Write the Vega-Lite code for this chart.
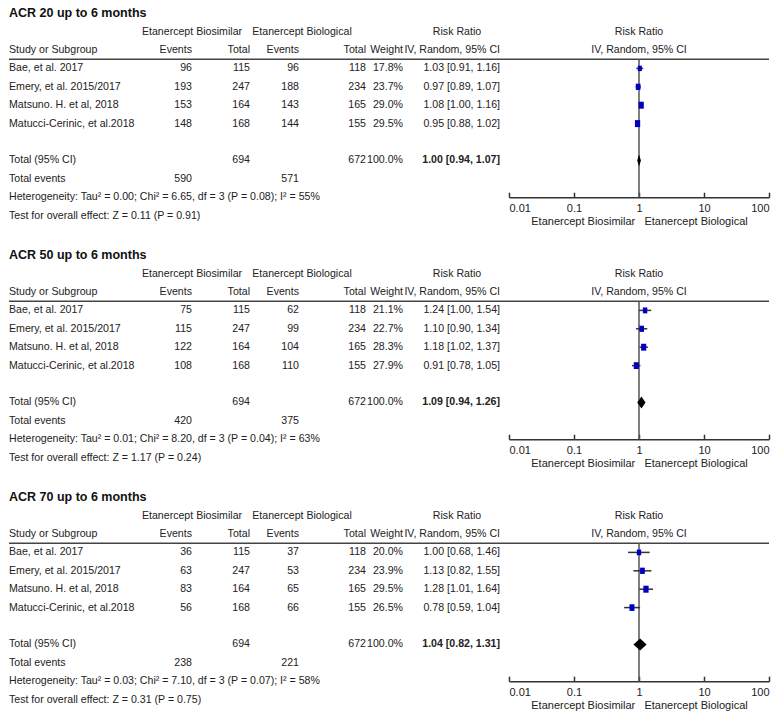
{
  "$schema": "https://vega.github.io/schema/vega-lite/v6.json",
  "padding": {"left": 8, "top": 4, "right": 1, "bottom": 1},
  "bounds": "full",
  "spacing": 19,
  "config": {
    "view": {"stroke": null},
    "font": "Liberation Sans",
    "text": {"fontSize": 10.6, "fill": "#222"},
    "axis": {"grid": false}
  },
  "data": {"values": [
    {"sec":"ACR 20","row":"t","study":"ACR 20 up to 6 months"},
    {"sec":"ACR 20","row":"h1","e1":"Etanercept Biosimilar","e2":"Etanercept Biological","ci":"Risk Ratio","fh":"Risk Ratio"},
    {"sec":"ACR 20","row":"h2","study":"Study or Subgroup","e1":"Events","n1":"Total","e2":"Events","n2":"Total","w":"Weight","ci":"IV, Random, 95% CI","fh":"IV, Random, 95% CI"},
    {"sec":"ACR 20","row":"s1","study":"Bae, et al. 2017","e1":"96","n1":"115","e2":"96","n2":"118","w":"17.8%","ci":"1.03 [0.91, 1.16]","rr":1.03,"lo":0.91,"hi":1.16,"wt":17.8},
    {"sec":"ACR 20","row":"s2","study":"Emery, et al. 2015/2017","e1":"193","n1":"247","e2":"188","n2":"234","w":"23.7%","ci":"0.97 [0.89, 1.07]","rr":0.97,"lo":0.89,"hi":1.07,"wt":23.7},
    {"sec":"ACR 20","row":"s3","study":"Matsuno. H. et al, 2018","e1":"153","n1":"164","e2":"143","n2":"165","w":"29.0%","ci":"1.08 [1.00, 1.16]","rr":1.08,"lo":1.0,"hi":1.16,"wt":29.0},
    {"sec":"ACR 20","row":"s4","study":"Matucci-Cerinic, et al.2018","e1":"148","n1":"168","e2":"144","n2":"155","w":"29.5%","ci":"0.95 [0.88, 1.02]","rr":0.95,"lo":0.88,"hi":1.02,"wt":29.5},
    {"sec":"ACR 20","row":"total","study":"Total (95% CI)","n1":"694","n2":"672","w":"100.0%","ci":"1.00 [0.94, 1.07]","rr":1.0,"lo":0.94,"hi":1.07},
    {"sec":"ACR 20","row":"events","study":"Total events","e1":"590","e2":"571"},
    {"sec":"ACR 20","row":"het","study":"Heterogeneity: Tau² = 0.00; Chi² = 6.65, df = 3 (P = 0.08); I² = 55%"},
    {"sec":"ACR 20","row":"test","study":"Test for overall effect: Z = 0.11 (P = 0.91)"},

    {"sec":"ACR 50","row":"t","study":"ACR 50 up to 6 months"},
    {"sec":"ACR 50","row":"h1","e1":"Etanercept Biosimilar","e2":"Etanercept Biological","ci":"Risk Ratio","fh":"Risk Ratio"},
    {"sec":"ACR 50","row":"h2","study":"Study or Subgroup","e1":"Events","n1":"Total","e2":"Events","n2":"Total","w":"Weight","ci":"IV, Random, 95% CI","fh":"IV, Random, 95% CI"},
    {"sec":"ACR 50","row":"s1","study":"Bae, et al. 2017","e1":"75","n1":"115","e2":"62","n2":"118","w":"21.1%","ci":"1.24 [1.00, 1.54]","rr":1.24,"lo":1.0,"hi":1.54,"wt":21.1},
    {"sec":"ACR 50","row":"s2","study":"Emery, et al. 2015/2017","e1":"115","n1":"247","e2":"99","n2":"234","w":"22.7%","ci":"1.10 [0.90, 1.34]","rr":1.1,"lo":0.9,"hi":1.34,"wt":22.7},
    {"sec":"ACR 50","row":"s3","study":"Matsuno. H. et al, 2018","e1":"122","n1":"164","e2":"104","n2":"165","w":"28.3%","ci":"1.18 [1.02, 1.37]","rr":1.18,"lo":1.02,"hi":1.37,"wt":28.3},
    {"sec":"ACR 50","row":"s4","study":"Matucci-Cerinic, et al.2018","e1":"108","n1":"168","e2":"110","n2":"155","w":"27.9%","ci":"0.91 [0.78, 1.05]","rr":0.91,"lo":0.78,"hi":1.05,"wt":27.9},
    {"sec":"ACR 50","row":"total","study":"Total (95% CI)","n1":"694","n2":"672","w":"100.0%","ci":"1.09 [0.94, 1.26]","rr":1.09,"lo":0.94,"hi":1.26},
    {"sec":"ACR 50","row":"events","study":"Total events","e1":"420","e2":"375"},
    {"sec":"ACR 50","row":"het","study":"Heterogeneity: Tau² = 0.01; Chi² = 8.20, df = 3 (P = 0.04); I² = 63%"},
    {"sec":"ACR 50","row":"test","study":"Test for overall effect: Z = 1.17 (P = 0.24)"},

    {"sec":"ACR 70","row":"t","study":"ACR 70 up to 6 months"},
    {"sec":"ACR 70","row":"h1","e1":"Etanercept Biosimilar","e2":"Etanercept Biological","ci":"Risk Ratio","fh":"Risk Ratio"},
    {"sec":"ACR 70","row":"h2","study":"Study or Subgroup","e1":"Events","n1":"Total","e2":"Events","n2":"Total","w":"Weight","ci":"IV, Random, 95% CI","fh":"IV, Random, 95% CI"},
    {"sec":"ACR 70","row":"s1","study":"Bae, et al. 2017","e1":"36","n1":"115","e2":"37","n2":"118","w":"20.0%","ci":"1.00 [0.68, 1.46]","rr":1.0,"lo":0.68,"hi":1.46,"wt":20.0},
    {"sec":"ACR 70","row":"s2","study":"Emery, et al. 2015/2017","e1":"63","n1":"247","e2":"53","n2":"234","w":"23.9%","ci":"1.13 [0.82, 1.55]","rr":1.13,"lo":0.82,"hi":1.55,"wt":23.9},
    {"sec":"ACR 70","row":"s3","study":"Matsuno. H. et al, 2018","e1":"83","n1":"164","e2":"65","n2":"165","w":"29.5%","ci":"1.28 [1.01, 1.64]","rr":1.28,"lo":1.01,"hi":1.64,"wt":29.5},
    {"sec":"ACR 70","row":"s4","study":"Matucci-Cerinic, et al.2018","e1":"56","n1":"168","e2":"66","n2":"155","w":"26.5%","ci":"0.78 [0.59, 1.04]","rr":0.78,"lo":0.59,"hi":1.04,"wt":26.5},
    {"sec":"ACR 70","row":"total","study":"Total (95% CI)","n1":"694","n2":"672","w":"100.0%","ci":"1.04 [0.82, 1.31]","rr":1.04,"lo":0.82,"hi":1.31},
    {"sec":"ACR 70","row":"events","study":"Total events","e1":"238","e2":"221"},
    {"sec":"ACR 70","row":"het","study":"Heterogeneity: Tau² = 0.03; Chi² = 7.10, df = 3 (P = 0.07); I² = 58%"},
    {"sec":"ACR 70","row":"test","study":"Test for overall effect: Z = 0.31 (P = 0.75)"}
  ]},
  "vconcat": [
    {"hconcat": [
      {"width": 132, "height": {"step": 18.4}, "transform": [{"filter": "datum.sec == 'ACR 20'"}],
       "encoding": {"y": {"field": "row", "type": "nominal", "scale": {"type": "band", "domain": ["t","h1","h2","s1","s2","s3","s4","gap","total","events","het","test"], "paddingInner": 0, "paddingOuter": 0}, "axis": null}},
       "layer": [
         {"transform": [{"filter": "datum.row == 's1'"}], "mark": {"type": "rule", "stroke": "#444", "strokeWidth": 1.6}, "encoding": {"y": {"field": "row", "type": "nominal", "bandPosition": 0}}},
         {"transform": [{"filter": "datum.row == 't'"}], "mark": {"type": "text", "align": "left", "fontSize": 12.5, "fontWeight": "bold", "fill": "#111"}, "encoding": {"x": {"datum": "c", "type": "nominal", "scale": {"type": "point", "align": 0}, "axis": null}, "text": {"field": "study"}}},
         {"transform": [{"filter": "datum.row != 't' && isValid(datum.study)"}], "mark": {"type": "text", "align": "left"}, "encoding": {"x": {"datum": "c", "type": "nominal", "scale": {"type": "point", "align": 0}, "axis": null}, "text": {"field": "study"}}}
       ]},
      {"width": 51, "height": {"step": 18.4}, "transform": [{"filter": "datum.sec == 'ACR 20'"}],
       "encoding": {"y": {"field": "row", "type": "nominal", "scale": {"type": "band", "domain": ["t","h1","h2","s1","s2","s3","s4","gap","total","events","het","test"], "paddingInner": 0, "paddingOuter": 0}, "axis": null}},
       "layer": [
         {"transform": [{"filter": "datum.row == 's1'"}], "mark": {"type": "rule", "stroke": "#444", "strokeWidth": 1.6}, "encoding": {"y": {"field": "row", "type": "nominal", "bandPosition": 0}}},
         {"transform": [{"filter": "datum.row == 'h1'"}], "mark": {"type": "text", "align": "center"}, "encoding": {"x": {"datum": "c", "type": "nominal", "scale": {"type": "point", "align": 1}, "axis": null}, "text": {"field": "e1"}}},
         {"transform": [{"filter": "datum.row != 'h1' && isValid(datum.e1)"}], "mark": {"type": "text", "align": "right"}, "encoding": {"x": {"datum": "c", "type": "nominal", "scale": {"type": "point", "align": 1}, "axis": null}, "text": {"field": "e1"}}}
       ]},
      {"width": 58, "height": {"step": 18.4}, "transform": [{"filter": "datum.sec == 'ACR 20'"}],
       "encoding": {"y": {"field": "row", "type": "nominal", "scale": {"type": "band", "domain": ["t","h1","h2","s1","s2","s3","s4","gap","total","events","het","test"], "paddingInner": 0, "paddingOuter": 0}, "axis": null}},
       "layer": [
         {"transform": [{"filter": "datum.row == 's1'"}], "mark": {"type": "rule", "stroke": "#444", "strokeWidth": 1.6}, "encoding": {"y": {"field": "row", "type": "nominal", "bandPosition": 0}}},
         {"transform": [{"filter": "isValid(datum.n1)"}], "mark": {"type": "text", "align": "right"}, "encoding": {"x": {"datum": "c", "type": "nominal", "scale": {"type": "point", "align": 1}, "axis": null}, "text": {"field": "n1"}}}
       ]},
      {"width": 49, "height": {"step": 18.4}, "transform": [{"filter": "datum.sec == 'ACR 20'"}],
       "encoding": {"y": {"field": "row", "type": "nominal", "scale": {"type": "band", "domain": ["t","h1","h2","s1","s2","s3","s4","gap","total","events","het","test"], "paddingInner": 0, "paddingOuter": 0}, "axis": null}},
       "layer": [
         {"transform": [{"filter": "datum.row == 's1'"}], "mark": {"type": "rule", "stroke": "#444", "strokeWidth": 1.6}, "encoding": {"y": {"field": "row", "type": "nominal", "bandPosition": 0}}},
         {"transform": [{"filter": "datum.row == 'h1'"}], "mark": {"type": "text", "align": "center", "dx": 3}, "encoding": {"x": {"datum": "c", "type": "nominal", "scale": {"type": "point", "align": 1}, "axis": null}, "text": {"field": "e2"}}},
         {"transform": [{"filter": "datum.row != 'h1' && isValid(datum.e2)"}], "mark": {"type": "text", "align": "right"}, "encoding": {"x": {"datum": "c", "type": "nominal", "scale": {"type": "point", "align": 1}, "axis": null}, "text": {"field": "e2"}}}
       ]},
      {"width": 67, "height": {"step": 18.4}, "transform": [{"filter": "datum.sec == 'ACR 20'"}],
       "encoding": {"y": {"field": "row", "type": "nominal", "scale": {"type": "band", "domain": ["t","h1","h2","s1","s2","s3","s4","gap","total","events","het","test"], "paddingInner": 0, "paddingOuter": 0}, "axis": null}},
       "layer": [
         {"transform": [{"filter": "datum.row == 's1'"}], "mark": {"type": "rule", "stroke": "#444", "strokeWidth": 1.6}, "encoding": {"y": {"field": "row", "type": "nominal", "bandPosition": 0}}},
         {"transform": [{"filter": "isValid(datum.n2)"}], "mark": {"type": "text", "align": "right"}, "encoding": {"x": {"datum": "c", "type": "nominal", "scale": {"type": "point", "align": 1}, "axis": null}, "text": {"field": "n2"}}}
       ]},
      {"width": 37, "height": {"step": 18.4}, "transform": [{"filter": "datum.sec == 'ACR 20'"}],
       "encoding": {"y": {"field": "row", "type": "nominal", "scale": {"type": "band", "domain": ["t","h1","h2","s1","s2","s3","s4","gap","total","events","het","test"], "paddingInner": 0, "paddingOuter": 0}, "axis": null}},
       "layer": [
         {"transform": [{"filter": "datum.row == 's1'"}], "mark": {"type": "rule", "stroke": "#444", "strokeWidth": 1.6}, "encoding": {"y": {"field": "row", "type": "nominal", "bandPosition": 0}}},
         {"transform": [{"filter": "isValid(datum.w)"}], "mark": {"type": "text", "align": "right"}, "encoding": {"x": {"datum": "c", "type": "nominal", "scale": {"type": "point", "align": 1}, "axis": null}, "text": {"field": "w"}}}
       ]},
      {"width": 106, "height": {"step": 18.4}, "transform": [{"filter": "datum.sec == 'ACR 20'"}],
       "encoding": {"y": {"field": "row", "type": "nominal", "scale": {"type": "band", "domain": ["t","h1","h2","s1","s2","s3","s4","gap","total","events","het","test"], "paddingInner": 0, "paddingOuter": 0}, "axis": null}},
       "layer": [
         {"transform": [{"filter": "datum.row == 's1'"}], "mark": {"type": "rule", "stroke": "#444", "strokeWidth": 1.6}, "encoding": {"y": {"field": "row", "type": "nominal", "bandPosition": 0}}},
         {"transform": [{"filter": "datum.row == 'h1'"}], "mark": {"type": "text", "align": "center", "dx": -52}, "encoding": {"x": {"datum": "c", "type": "nominal", "scale": {"type": "point", "align": 1}, "axis": null}, "text": {"field": "ci"}}},
         {"transform": [{"filter": "datum.row != 'h1' && datum.row != 'total' && isValid(datum.ci)"}], "mark": {"type": "text", "align": "right", "dx": -9}, "encoding": {"x": {"datum": "c", "type": "nominal", "scale": {"type": "point", "align": 1}, "axis": null}, "text": {"field": "ci"}}},
         {"transform": [{"filter": "datum.row == 'total'"}], "mark": {"type": "text", "align": "right", "dx": -9, "fontWeight": "bold"}, "encoding": {"x": {"datum": "c", "type": "nominal", "scale": {"type": "point", "align": 1}, "axis": null}, "text": {"field": "ci"}}}
       ]},
      {"width": 260, "height": {"step": 18.4}, "transform": [{"filter": "datum.sec == 'ACR 20'"}],
       "encoding": {"y": {"field": "row", "type": "nominal", "scale": {"type": "band", "domain": ["t","h1","h2","s1","s2","s3","s4","gap","total","events","het","test"], "paddingInner": 0, "paddingOuter": 0}, "axis": null}},
       "layer": [
         {"transform": [{"filter": "datum.row == 's1'"}], "mark": {"type": "rule", "stroke": "#444", "strokeWidth": 1.6}, "encoding": {"y": {"field": "row", "type": "nominal", "bandPosition": 0}}},
         {"transform": [{"filter": "datum.row == 's1'"}], "mark": {"type": "rule", "stroke": "#555", "strokeWidth": 1.5},
          "encoding": {
            "x": {"datum": 1, "type": "quantitative", "scale": {"type": "log", "domain": [0.01, 100], "nice": false},
                  "axis": {"orient": "bottom", "offset": -27.6, "values": [0.01, 0.1, 1, 10, 100], "format": "~g", "domainColor": "#333", "domainWidth": 1.6, "tickColor": "#333", "tickWidth": 1.5, "tickSize": -5, "labelPadding": 10, "labelFontSize": 11, "labelColor": "#222", "labelFlush": true, "title": "Etanercept Biosimilar\u00a0\u00a0\u00a0Etanercept Biological", "titleFontSize": 11, "titleFontWeight": "normal", "titleColor": "#222", "titlePadding": 2}},
            "y": {"field": "row", "type": "nominal", "bandPosition": 0},
            "y2": {"datum": "het"}
          }},
         {"transform": [{"filter": "isValid(datum.lo) && datum.row != 'total'"}], "mark": {"type": "rule", "stroke": "#333", "strokeWidth": 1.5},
          "encoding": {"x": {"field": "lo", "type": "quantitative"}, "x2": {"field": "hi"}}},
         {"transform": [{"filter": "isValid(datum.wt)"}], "mark": {"type": "point", "filled": true, "opacity": 1, "shape": "M -0.75 -1 L 0.75 -1 L 0.75 1 L -0.75 1 Z", "color": "#0000C0"},
          "encoding": {"x": {"field": "rr", "type": "quantitative"}, "size": {"field": "wt", "type": "quantitative", "scale": {"domain": [0, 30], "range": [0, 50]}, "legend": null}}},
         {"transform": [{"filter": "datum.row == 'total'"}], "mark": {"type": "point", "filled": true, "opacity": 1, "size": 144, "color": "#000"},
          "encoding": {"x": {"field": "rr", "type": "quantitative"}, "shape": {"field": "sec", "type": "nominal", "scale": {"domain": ["ACR 20","ACR 50","ACR 70"], "range": ["M -0.29 0 L 0 -1 L 0.32 0 L 0 1 Z", "M -0.70 0 L 0 -1 L 0.68 0 L 0 1 Z", "M -1.12 0 L 0 -1 L 1.09 0 L 0 1 Z"]}, "legend": null}}},
         {"transform": [{"filter": "isValid(datum.fh)"}], "mark": {"type": "text", "align": "center"},
          "encoding": {"x": {"datum": 1, "type": "quantitative"}, "text": {"field": "fh"}}}
       ]}
    ], "spacing": 0, "bounds": "flush"},

    {"hconcat": [
      {"width": 132, "height": {"step": 18.4}, "transform": [{"filter": "datum.sec == 'ACR 50'"}],
       "encoding": {"y": {"field": "row", "type": "nominal", "scale": {"type": "band", "domain": ["t","h1","h2","s1","s2","s3","s4","gap","total","events","het","test"], "paddingInner": 0, "paddingOuter": 0}, "axis": null}},
       "layer": [
         {"transform": [{"filter": "datum.row == 's1'"}], "mark": {"type": "rule", "stroke": "#444", "strokeWidth": 1.6}, "encoding": {"y": {"field": "row", "type": "nominal", "bandPosition": 0}}},
         {"transform": [{"filter": "datum.row == 't'"}], "mark": {"type": "text", "align": "left", "fontSize": 12.5, "fontWeight": "bold", "fill": "#111"}, "encoding": {"x": {"datum": "c", "type": "nominal", "scale": {"type": "point", "align": 0}, "axis": null}, "text": {"field": "study"}}},
         {"transform": [{"filter": "datum.row != 't' && isValid(datum.study)"}], "mark": {"type": "text", "align": "left"}, "encoding": {"x": {"datum": "c", "type": "nominal", "scale": {"type": "point", "align": 0}, "axis": null}, "text": {"field": "study"}}}
       ]},
      {"width": 51, "height": {"step": 18.4}, "transform": [{"filter": "datum.sec == 'ACR 50'"}],
       "encoding": {"y": {"field": "row", "type": "nominal", "scale": {"type": "band", "domain": ["t","h1","h2","s1","s2","s3","s4","gap","total","events","het","test"], "paddingInner": 0, "paddingOuter": 0}, "axis": null}},
       "layer": [
         {"transform": [{"filter": "datum.row == 's1'"}], "mark": {"type": "rule", "stroke": "#444", "strokeWidth": 1.6}, "encoding": {"y": {"field": "row", "type": "nominal", "bandPosition": 0}}},
         {"transform": [{"filter": "datum.row == 'h1'"}], "mark": {"type": "text", "align": "center"}, "encoding": {"x": {"datum": "c", "type": "nominal", "scale": {"type": "point", "align": 1}, "axis": null}, "text": {"field": "e1"}}},
         {"transform": [{"filter": "datum.row != 'h1' && isValid(datum.e1)"}], "mark": {"type": "text", "align": "right"}, "encoding": {"x": {"datum": "c", "type": "nominal", "scale": {"type": "point", "align": 1}, "axis": null}, "text": {"field": "e1"}}}
       ]},
      {"width": 58, "height": {"step": 18.4}, "transform": [{"filter": "datum.sec == 'ACR 50'"}],
       "encoding": {"y": {"field": "row", "type": "nominal", "scale": {"type": "band", "domain": ["t","h1","h2","s1","s2","s3","s4","gap","total","events","het","test"], "paddingInner": 0, "paddingOuter": 0}, "axis": null}},
       "layer": [
         {"transform": [{"filter": "datum.row == 's1'"}], "mark": {"type": "rule", "stroke": "#444", "strokeWidth": 1.6}, "encoding": {"y": {"field": "row", "type": "nominal", "bandPosition": 0}}},
         {"transform": [{"filter": "isValid(datum.n1)"}], "mark": {"type": "text", "align": "right"}, "encoding": {"x": {"datum": "c", "type": "nominal", "scale": {"type": "point", "align": 1}, "axis": null}, "text": {"field": "n1"}}}
       ]},
      {"width": 49, "height": {"step": 18.4}, "transform": [{"filter": "datum.sec == 'ACR 50'"}],
       "encoding": {"y": {"field": "row", "type": "nominal", "scale": {"type": "band", "domain": ["t","h1","h2","s1","s2","s3","s4","gap","total","events","het","test"], "paddingInner": 0, "paddingOuter": 0}, "axis": null}},
       "layer": [
         {"transform": [{"filter": "datum.row == 's1'"}], "mark": {"type": "rule", "stroke": "#444", "strokeWidth": 1.6}, "encoding": {"y": {"field": "row", "type": "nominal", "bandPosition": 0}}},
         {"transform": [{"filter": "datum.row == 'h1'"}], "mark": {"type": "text", "align": "center", "dx": 3}, "encoding": {"x": {"datum": "c", "type": "nominal", "scale": {"type": "point", "align": 1}, "axis": null}, "text": {"field": "e2"}}},
         {"transform": [{"filter": "datum.row != 'h1' && isValid(datum.e2)"}], "mark": {"type": "text", "align": "right"}, "encoding": {"x": {"datum": "c", "type": "nominal", "scale": {"type": "point", "align": 1}, "axis": null}, "text": {"field": "e2"}}}
       ]},
      {"width": 67, "height": {"step": 18.4}, "transform": [{"filter": "datum.sec == 'ACR 50'"}],
       "encoding": {"y": {"field": "row", "type": "nominal", "scale": {"type": "band", "domain": ["t","h1","h2","s1","s2","s3","s4","gap","total","events","het","test"], "paddingInner": 0, "paddingOuter": 0}, "axis": null}},
       "layer": [
         {"transform": [{"filter": "datum.row == 's1'"}], "mark": {"type": "rule", "stroke": "#444", "strokeWidth": 1.6}, "encoding": {"y": {"field": "row", "type": "nominal", "bandPosition": 0}}},
         {"transform": [{"filter": "isValid(datum.n2)"}], "mark": {"type": "text", "align": "right"}, "encoding": {"x": {"datum": "c", "type": "nominal", "scale": {"type": "point", "align": 1}, "axis": null}, "text": {"field": "n2"}}}
       ]},
      {"width": 37, "height": {"step": 18.4}, "transform": [{"filter": "datum.sec == 'ACR 50'"}],
       "encoding": {"y": {"field": "row", "type": "nominal", "scale": {"type": "band", "domain": ["t","h1","h2","s1","s2","s3","s4","gap","total","events","het","test"], "paddingInner": 0, "paddingOuter": 0}, "axis": null}},
       "layer": [
         {"transform": [{"filter": "datum.row == 's1'"}], "mark": {"type": "rule", "stroke": "#444", "strokeWidth": 1.6}, "encoding": {"y": {"field": "row", "type": "nominal", "bandPosition": 0}}},
         {"transform": [{"filter": "isValid(datum.w)"}], "mark": {"type": "text", "align": "right"}, "encoding": {"x": {"datum": "c", "type": "nominal", "scale": {"type": "point", "align": 1}, "axis": null}, "text": {"field": "w"}}}
       ]},
      {"width": 106, "height": {"step": 18.4}, "transform": [{"filter": "datum.sec == 'ACR 50'"}],
       "encoding": {"y": {"field": "row", "type": "nominal", "scale": {"type": "band", "domain": ["t","h1","h2","s1","s2","s3","s4","gap","total","events","het","test"], "paddingInner": 0, "paddingOuter": 0}, "axis": null}},
       "layer": [
         {"transform": [{"filter": "datum.row == 's1'"}], "mark": {"type": "rule", "stroke": "#444", "strokeWidth": 1.6}, "encoding": {"y": {"field": "row", "type": "nominal", "bandPosition": 0}}},
         {"transform": [{"filter": "datum.row == 'h1'"}], "mark": {"type": "text", "align": "center", "dx": -52}, "encoding": {"x": {"datum": "c", "type": "nominal", "scale": {"type": "point", "align": 1}, "axis": null}, "text": {"field": "ci"}}},
         {"transform": [{"filter": "datum.row != 'h1' && datum.row != 'total' && isValid(datum.ci)"}], "mark": {"type": "text", "align": "right", "dx": -9}, "encoding": {"x": {"datum": "c", "type": "nominal", "scale": {"type": "point", "align": 1}, "axis": null}, "text": {"field": "ci"}}},
         {"transform": [{"filter": "datum.row == 'total'"}], "mark": {"type": "text", "align": "right", "dx": -9, "fontWeight": "bold"}, "encoding": {"x": {"datum": "c", "type": "nominal", "scale": {"type": "point", "align": 1}, "axis": null}, "text": {"field": "ci"}}}
       ]},
      {"width": 260, "height": {"step": 18.4}, "transform": [{"filter": "datum.sec == 'ACR 50'"}],
       "encoding": {"y": {"field": "row", "type": "nominal", "scale": {"type": "band", "domain": ["t","h1","h2","s1","s2","s3","s4","gap","total","events","het","test"], "paddingInner": 0, "paddingOuter": 0}, "axis": null}},
       "layer": [
         {"transform": [{"filter": "datum.row == 's1'"}], "mark": {"type": "rule", "stroke": "#444", "strokeWidth": 1.6}, "encoding": {"y": {"field": "row", "type": "nominal", "bandPosition": 0}}},
         {"transform": [{"filter": "datum.row == 's1'"}], "mark": {"type": "rule", "stroke": "#555", "strokeWidth": 1.5},
          "encoding": {
            "x": {"datum": 1, "type": "quantitative", "scale": {"type": "log", "domain": [0.01, 100], "nice": false},
                  "axis": {"orient": "bottom", "offset": -27.6, "values": [0.01, 0.1, 1, 10, 100], "format": "~g", "domainColor": "#333", "domainWidth": 1.6, "tickColor": "#333", "tickWidth": 1.5, "tickSize": -5, "labelPadding": 10, "labelFontSize": 11, "labelColor": "#222", "labelFlush": true, "title": "Etanercept Biosimilar\u00a0\u00a0\u00a0Etanercept Biological", "titleFontSize": 11, "titleFontWeight": "normal", "titleColor": "#222", "titlePadding": 2}},
            "y": {"field": "row", "type": "nominal", "bandPosition": 0},
            "y2": {"datum": "het"}
          }},
         {"transform": [{"filter": "isValid(datum.lo) && datum.row != 'total'"}], "mark": {"type": "rule", "stroke": "#333", "strokeWidth": 1.5},
          "encoding": {"x": {"field": "lo", "type": "quantitative"}, "x2": {"field": "hi"}}},
         {"transform": [{"filter": "isValid(datum.wt)"}], "mark": {"type": "point", "filled": true, "opacity": 1, "shape": "M -0.75 -1 L 0.75 -1 L 0.75 1 L -0.75 1 Z", "color": "#0000C0"},
          "encoding": {"x": {"field": "rr", "type": "quantitative"}, "size": {"field": "wt", "type": "quantitative", "scale": {"domain": [0, 30], "range": [0, 50]}, "legend": null}}},
         {"transform": [{"filter": "datum.row == 'total'"}], "mark": {"type": "point", "filled": true, "opacity": 1, "size": 144, "color": "#000"},
          "encoding": {"x": {"field": "rr", "type": "quantitative"}, "shape": {"field": "sec", "type": "nominal", "scale": {"domain": ["ACR 20","ACR 50","ACR 70"], "range": ["M -0.29 0 L 0 -1 L 0.32 0 L 0 1 Z", "M -0.70 0 L 0 -1 L 0.68 0 L 0 1 Z", "M -1.12 0 L 0 -1 L 1.09 0 L 0 1 Z"]}, "legend": null}}},
         {"transform": [{"filter": "isValid(datum.fh)"}], "mark": {"type": "text", "align": "center"},
          "encoding": {"x": {"datum": 1, "type": "quantitative"}, "text": {"field": "fh"}}}
       ]}
    ], "spacing": 0, "bounds": "flush"},

    {"hconcat": [
      {"width": 132, "height": {"step": 18.4}, "transform": [{"filter": "datum.sec == 'ACR 70'"}],
       "encoding": {"y": {"field": "row", "type": "nominal", "scale": {"type": "band", "domain": ["t","h1","h2","s1","s2","s3","s4","gap","total","events","het","test"], "paddingInner": 0, "paddingOuter": 0}, "axis": null}},
       "layer": [
         {"transform": [{"filter": "datum.row == 's1'"}], "mark": {"type": "rule", "stroke": "#444", "strokeWidth": 1.6}, "encoding": {"y": {"field": "row", "type": "nominal", "bandPosition": 0}}},
         {"transform": [{"filter": "datum.row == 't'"}], "mark": {"type": "text", "align": "left", "fontSize": 12.5, "fontWeight": "bold", "fill": "#111"}, "encoding": {"x": {"datum": "c", "type": "nominal", "scale": {"type": "point", "align": 0}, "axis": null}, "text": {"field": "study"}}},
         {"transform": [{"filter": "datum.row != 't' && isValid(datum.study)"}], "mark": {"type": "text", "align": "left"}, "encoding": {"x": {"datum": "c", "type": "nominal", "scale": {"type": "point", "align": 0}, "axis": null}, "text": {"field": "study"}}}
       ]},
      {"width": 51, "height": {"step": 18.4}, "transform": [{"filter": "datum.sec == 'ACR 70'"}],
       "encoding": {"y": {"field": "row", "type": "nominal", "scale": {"type": "band", "domain": ["t","h1","h2","s1","s2","s3","s4","gap","total","events","het","test"], "paddingInner": 0, "paddingOuter": 0}, "axis": null}},
       "layer": [
         {"transform": [{"filter": "datum.row == 's1'"}], "mark": {"type": "rule", "stroke": "#444", "strokeWidth": 1.6}, "encoding": {"y": {"field": "row", "type": "nominal", "bandPosition": 0}}},
         {"transform": [{"filter": "datum.row == 'h1'"}], "mark": {"type": "text", "align": "center"}, "encoding": {"x": {"datum": "c", "type": "nominal", "scale": {"type": "point", "align": 1}, "axis": null}, "text": {"field": "e1"}}},
         {"transform": [{"filter": "datum.row != 'h1' && isValid(datum.e1)"}], "mark": {"type": "text", "align": "right"}, "encoding": {"x": {"datum": "c", "type": "nominal", "scale": {"type": "point", "align": 1}, "axis": null}, "text": {"field": "e1"}}}
       ]},
      {"width": 58, "height": {"step": 18.4}, "transform": [{"filter": "datum.sec == 'ACR 70'"}],
       "encoding": {"y": {"field": "row", "type": "nominal", "scale": {"type": "band", "domain": ["t","h1","h2","s1","s2","s3","s4","gap","total","events","het","test"], "paddingInner": 0, "paddingOuter": 0}, "axis": null}},
       "layer": [
         {"transform": [{"filter": "datum.row == 's1'"}], "mark": {"type": "rule", "stroke": "#444", "strokeWidth": 1.6}, "encoding": {"y": {"field": "row", "type": "nominal", "bandPosition": 0}}},
         {"transform": [{"filter": "isValid(datum.n1)"}], "mark": {"type": "text", "align": "right"}, "encoding": {"x": {"datum": "c", "type": "nominal", "scale": {"type": "point", "align": 1}, "axis": null}, "text": {"field": "n1"}}}
       ]},
      {"width": 49, "height": {"step": 18.4}, "transform": [{"filter": "datum.sec == 'ACR 70'"}],
       "encoding": {"y": {"field": "row", "type": "nominal", "scale": {"type": "band", "domain": ["t","h1","h2","s1","s2","s3","s4","gap","total","events","het","test"], "paddingInner": 0, "paddingOuter": 0}, "axis": null}},
       "layer": [
         {"transform": [{"filter": "datum.row == 's1'"}], "mark": {"type": "rule", "stroke": "#444", "strokeWidth": 1.6}, "encoding": {"y": {"field": "row", "type": "nominal", "bandPosition": 0}}},
         {"transform": [{"filter": "datum.row == 'h1'"}], "mark": {"type": "text", "align": "center", "dx": 3}, "encoding": {"x": {"datum": "c", "type": "nominal", "scale": {"type": "point", "align": 1}, "axis": null}, "text": {"field": "e2"}}},
         {"transform": [{"filter": "datum.row != 'h1' && isValid(datum.e2)"}], "mark": {"type": "text", "align": "right"}, "encoding": {"x": {"datum": "c", "type": "nominal", "scale": {"type": "point", "align": 1}, "axis": null}, "text": {"field": "e2"}}}
       ]},
      {"width": 67, "height": {"step": 18.4}, "transform": [{"filter": "datum.sec == 'ACR 70'"}],
       "encoding": {"y": {"field": "row", "type": "nominal", "scale": {"type": "band", "domain": ["t","h1","h2","s1","s2","s3","s4","gap","total","events","het","test"], "paddingInner": 0, "paddingOuter": 0}, "axis": null}},
       "layer": [
         {"transform": [{"filter": "datum.row == 's1'"}], "mark": {"type": "rule", "stroke": "#444", "strokeWidth": 1.6}, "encoding": {"y": {"field": "row", "type": "nominal", "bandPosition": 0}}},
         {"transform": [{"filter": "isValid(datum.n2)"}], "mark": {"type": "text", "align": "right"}, "encoding": {"x": {"datum": "c", "type": "nominal", "scale": {"type": "point", "align": 1}, "axis": null}, "text": {"field": "n2"}}}
       ]},
      {"width": 37, "height": {"step": 18.4}, "transform": [{"filter": "datum.sec == 'ACR 70'"}],
       "encoding": {"y": {"field": "row", "type": "nominal", "scale": {"type": "band", "domain": ["t","h1","h2","s1","s2","s3","s4","gap","total","events","het","test"], "paddingInner": 0, "paddingOuter": 0}, "axis": null}},
       "layer": [
         {"transform": [{"filter": "datum.row == 's1'"}], "mark": {"type": "rule", "stroke": "#444", "strokeWidth": 1.6}, "encoding": {"y": {"field": "row", "type": "nominal", "bandPosition": 0}}},
         {"transform": [{"filter": "isValid(datum.w)"}], "mark": {"type": "text", "align": "right"}, "encoding": {"x": {"datum": "c", "type": "nominal", "scale": {"type": "point", "align": 1}, "axis": null}, "text": {"field": "w"}}}
       ]},
      {"width": 106, "height": {"step": 18.4}, "transform": [{"filter": "datum.sec == 'ACR 70'"}],
       "encoding": {"y": {"field": "row", "type": "nominal", "scale": {"type": "band", "domain": ["t","h1","h2","s1","s2","s3","s4","gap","total","events","het","test"], "paddingInner": 0, "paddingOuter": 0}, "axis": null}},
       "layer": [
         {"transform": [{"filter": "datum.row == 's1'"}], "mark": {"type": "rule", "stroke": "#444", "strokeWidth": 1.6}, "encoding": {"y": {"field": "row", "type": "nominal", "bandPosition": 0}}},
         {"transform": [{"filter": "datum.row == 'h1'"}], "mark": {"type": "text", "align": "center", "dx": -52}, "encoding": {"x": {"datum": "c", "type": "nominal", "scale": {"type": "point", "align": 1}, "axis": null}, "text": {"field": "ci"}}},
         {"transform": [{"filter": "datum.row != 'h1' && datum.row != 'total' && isValid(datum.ci)"}], "mark": {"type": "text", "align": "right", "dx": -9}, "encoding": {"x": {"datum": "c", "type": "nominal", "scale": {"type": "point", "align": 1}, "axis": null}, "text": {"field": "ci"}}},
         {"transform": [{"filter": "datum.row == 'total'"}], "mark": {"type": "text", "align": "right", "dx": -9, "fontWeight": "bold"}, "encoding": {"x": {"datum": "c", "type": "nominal", "scale": {"type": "point", "align": 1}, "axis": null}, "text": {"field": "ci"}}}
       ]},
      {"width": 260, "height": {"step": 18.4}, "transform": [{"filter": "datum.sec == 'ACR 70'"}],
       "encoding": {"y": {"field": "row", "type": "nominal", "scale": {"type": "band", "domain": ["t","h1","h2","s1","s2","s3","s4","gap","total","events","het","test"], "paddingInner": 0, "paddingOuter": 0}, "axis": null}},
       "layer": [
         {"transform": [{"filter": "datum.row == 's1'"}], "mark": {"type": "rule", "stroke": "#444", "strokeWidth": 1.6}, "encoding": {"y": {"field": "row", "type": "nominal", "bandPosition": 0}}},
         {"transform": [{"filter": "datum.row == 's1'"}], "mark": {"type": "rule", "stroke": "#555", "strokeWidth": 1.5},
          "encoding": {
            "x": {"datum": 1, "type": "quantitative", "scale": {"type": "log", "domain": [0.01, 100], "nice": false},
                  "axis": {"orient": "bottom", "offset": -27.6, "values": [0.01, 0.1, 1, 10, 100], "format": "~g", "domainColor": "#333", "domainWidth": 1.6, "tickColor": "#333", "tickWidth": 1.5, "tickSize": -5, "labelPadding": 10, "labelFontSize": 11, "labelColor": "#222", "labelFlush": true, "title": "Etanercept Biosimilar\u00a0\u00a0\u00a0Etanercept Biological", "titleFontSize": 11, "titleFontWeight": "normal", "titleColor": "#222", "titlePadding": 2}},
            "y": {"field": "row", "type": "nominal", "bandPosition": 0},
            "y2": {"datum": "het"}
          }},
         {"transform": [{"filter": "isValid(datum.lo) && datum.row != 'total'"}], "mark": {"type": "rule", "stroke": "#333", "strokeWidth": 1.5},
          "encoding": {"x": {"field": "lo", "type": "quantitative"}, "x2": {"field": "hi"}}},
         {"transform": [{"filter": "isValid(datum.wt)"}], "mark": {"type": "point", "filled": true, "opacity": 1, "shape": "M -0.75 -1 L 0.75 -1 L 0.75 1 L -0.75 1 Z", "color": "#0000C0"},
          "encoding": {"x": {"field": "rr", "type": "quantitative"}, "size": {"field": "wt", "type": "quantitative", "scale": {"domain": [0, 30], "range": [0, 50]}, "legend": null}}},
         {"transform": [{"filter": "datum.row == 'total'"}], "mark": {"type": "point", "filled": true, "opacity": 1, "size": 144, "color": "#000"},
          "encoding": {"x": {"field": "rr", "type": "quantitative"}, "shape": {"field": "sec", "type": "nominal", "scale": {"domain": ["ACR 20","ACR 50","ACR 70"], "range": ["M -0.29 0 L 0 -1 L 0.32 0 L 0 1 Z", "M -0.70 0 L 0 -1 L 0.68 0 L 0 1 Z", "M -1.12 0 L 0 -1 L 1.09 0 L 0 1 Z"]}, "legend": null}}},
         {"transform": [{"filter": "isValid(datum.fh)"}], "mark": {"type": "text", "align": "center"},
          "encoding": {"x": {"datum": 1, "type": "quantitative"}, "text": {"field": "fh"}}}
       ]}
    ], "spacing": 0, "bounds": "flush"}
  ]
}
